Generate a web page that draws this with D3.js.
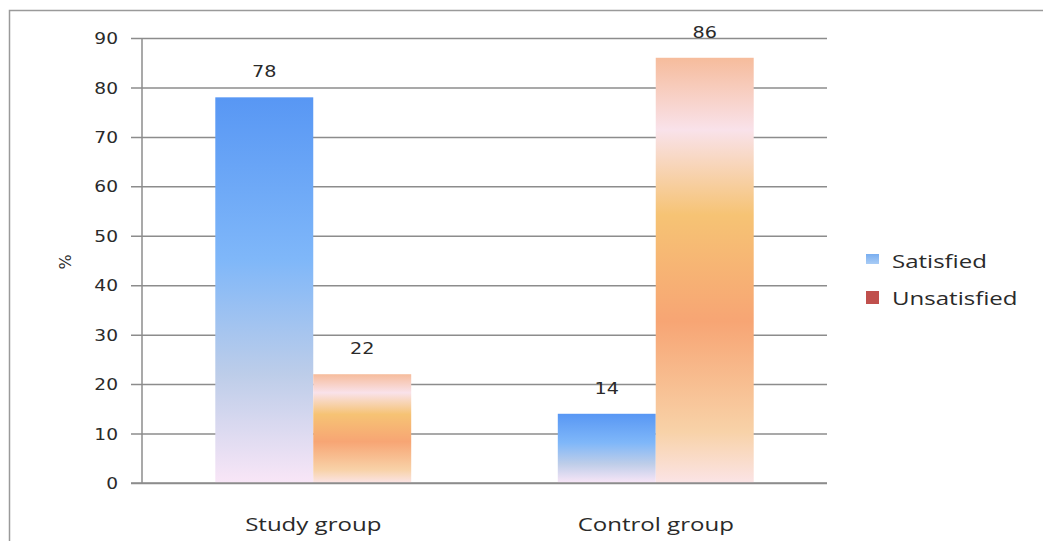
<!DOCTYPE html>
<html>
<head>
<meta charset="utf-8">
<script src="https://cdn.jsdelivr.net/npm/d3@7"></script>
<style>
  html, body { margin: 0; padding: 0; background: #fff; }
  svg { display: block; }
</style>
</head>
<body>
<svg id="chart" width="1043" height="541"></svg>
<script>
// ---- data ----
const categories = ["Study group", "Control group"];
const seriesNames = ["Satisfied", "Unsatisfied"];
const satisfied = [78, 14];
const unsatisfied = [22, 86];
const yTicks = [0, 10, 20, 30, 40, 50, 60, 70, 80, 90];
const yLabel = "%";

// ---- layout ----
const W = 1043, H = 541;
const plot = { left: 142, right: 827, top: 38, bottom: 483 };
const SXN = 1.2;  // horizontal stretch for numbers
const SXT = 1.3;  // horizontal stretch for words
const textColor = "#2a2a2a";
const gridColor = "#8c8c8c";

const svg = d3.select("#chart");
svg.append("rect").attr("width", W).attr("height", H).attr("fill", "#fff");

// outer frame (only top and left edges visible in the picture)
svg.append("rect")
  .attr("x", 9.5).attr("y", 10.5).attr("width", W + 40).attr("height", H + 40)
  .attr("fill", "none").attr("stroke", "#9a9a9a").attr("stroke-width", 1.5);

// gradients
const defs = svg.append("defs");
function grad(id, stops) {
  const g = defs.append("linearGradient").attr("id", id)
    .attr("x1", 0).attr("y1", 0).attr("x2", 0).attr("y2", 1);
  stops.forEach(([o, c]) => g.append("stop").attr("offset", o).attr("stop-color", c));
}
grad("gSat", [[0, "#5897f4"], [0.42, "#7fb7f9"], [0.72, "#bdcde9"], [1, "#f9e6f7"]]);
grad("gUns", [[0, "#f6bc9c"], [0.17, "#f9e2ea"], [0.37, "#f6c374"], [0.62, "#f7a574"], [0.88, "#f8d2a8"], [1, "#fbe4e6"]]);
grad("gSatLeg", [[0, "#79aef0"], [1, "#a9ccf5"]]);
const fills = ["url(#gSat)", "url(#gUns)"];
const legendFills = ["url(#gSatLeg)", "#c0504d"];

// scales
const y = d3.scaleLinear().domain([0, 90]).range([plot.bottom, plot.top]);
const x0 = d3.scaleBand().domain(categories).range([plot.left, plot.right])
  .paddingInner(0.428).paddingOuter(0.214);
const x1 = d3.scaleBand().domain(seriesNames).range([0, x0.bandwidth()]).padding(0);

// gridlines + tick marks (extend left of the axis)
const grid = svg.append("g").attr("transform", `translate(${plot.left},0)`)
  .call(d3.axisLeft(y).tickValues(yTicks).tickSize(-(plot.right - plot.left)).tickFormat(""));
grid.select(".domain").remove();
grid.selectAll(".tick line").attr("stroke", gridColor).attr("stroke-width", 1.5)
  .attr("x1", -11);

// y axis line
svg.append("line").attr("x1", plot.left).attr("x2", plot.left)
  .attr("y1", y(90)).attr("y2", y(0)).attr("stroke", gridColor).attr("stroke-width", 1.5);

// y tick labels
const yAx = svg.append("g").attr("transform", `translate(${plot.left},0)`)
  .call(d3.axisLeft(y).tickValues(yTicks).tickSize(0).tickFormat(d3.format("d")));
yAx.select(".domain").remove();
yAx.selectAll(".tick text")
  .attr("x", -24 / SXN).attr("dy", "0.36em")
  .attr("transform", `scale(${SXN},1)`)
  .attr("font-family", "DejaVu Sans").attr("font-size", 15.5).attr("fill", textColor);

// bars
const rows = categories.map((c, i) => ({ cat: c, vals: [satisfied[i], unsatisfied[i]] }));
const groups = svg.append("g").selectAll("g").data(rows).join("g")
  .attr("transform", d => `translate(${x0(d.cat)},0)`);
groups.selectAll("rect").data(d => d.vals.map((v, j) => ({ s: seriesNames[j], v, j })))
  .join("rect")
  .attr("x", d => x1(d.s)).attr("width", x1.bandwidth())
  .attr("y", d => y(d.v)).attr("height", d => y(0) - y(d.v))
  .attr("fill", d => fills[d.j]);

// value labels
groups.selectAll("text").data(d => d.vals.map((v, j) => ({ s: seriesNames[j], v, j })))
  .join("text")
  .attr("transform", d => `translate(${x1(d.s) + x1.bandwidth() / 2},${y(d.v) - 20}) scale(${SXN},1)`)
  .attr("text-anchor", "middle")
  .attr("font-family", "DejaVu Sans").attr("font-size", 16).attr("fill", textColor)
  .text(d => d.v);

// bottom axis line
svg.append("line").attr("x1", plot.left - 11).attr("x2", plot.right)
  .attr("y1", y(0)).attr("y2", y(0)).attr("stroke", gridColor).attr("stroke-width", 1.5);

// category labels
svg.append("g").selectAll("text").data(categories).join("text")
  .attr("transform", d => `translate(${x0(d) + x0.bandwidth() / 2},531) scale(${SXT},1)`)
  .attr("text-anchor", "middle")
  .attr("font-family", "Open Sans").attr("font-size", 18.5).attr("fill", textColor)
  .text(d => d);

// y label
svg.append("text")
  .attr("transform", "translate(71,262) rotate(-90)")
  .attr("text-anchor", "middle")
  .attr("font-family", "DejaVu Sans").attr("font-size", 16).attr("fill", textColor)
  .text(yLabel);

// legend
const leg = svg.append("g").selectAll("g").data(seriesNames).join("g")
  .attr("transform", (d, i) => `translate(866,${261 + i * 37})`);
leg.append("rect").attr("x", 0).attr("y", -7)
  .attr("width", 13).attr("height", (d, i) => i === 0 ? 10 : 13)
  .attr("fill", (d, i) => legendFills[i]);
leg.append("text")
  .attr("transform", `translate(26,7) scale(${SXT},1)`)
  .attr("font-family", "Open Sans").attr("font-size", 18.5).attr("fill", textColor)
  .text(d => d);
</script>
</body>
</html>
